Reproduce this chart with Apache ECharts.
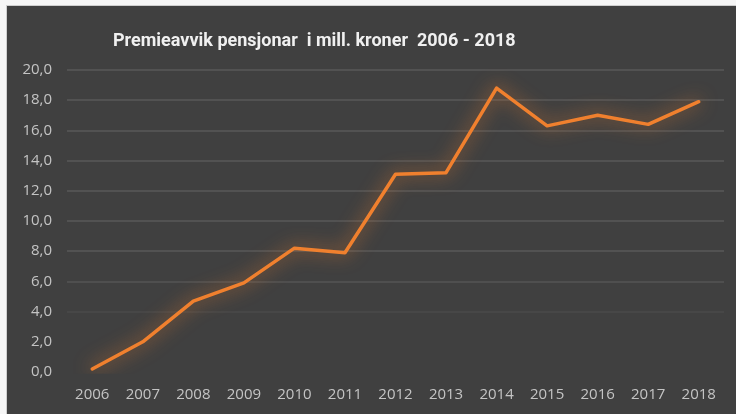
<!DOCTYPE html>
<html>
<head>
<meta charset="utf-8">
<script src="https://cdn.jsdelivr.net/npm/echarts@6/dist/echarts.min.js"></script>
<style>
    html, body { margin: 0; padding: 0; background: #f6f6f6; }
    #chart {
        position: absolute;
        left: 6px;
        top: 5px;
        width: 729px;
        height: 408px;
        border-left: 1px solid #cfcfcf;
        border-top: 1px solid #cfcfcf;
        background: #404040;
    }
</style>
</head>
<body>
<div id="chart"></div>
<script>
var years = ['2006', '2007', '2008', '2009', '2010', '2011', '2012', '2013', '2014', '2015', '2016', '2017', '2018'];
var premieavvik = [0.2, 2.0, 4.7, 5.9, 8.2, 7.9, 13.1, 13.2, 18.8, 16.3, 17.0, 16.4, 17.9];
var yTicks = { min: 0, max: 20, interval: 2 };

var mychart = echarts.init(document.getElementById('chart'));
var option = {
    backgroundColor: '#404040',
    animation: false,
    title: {
        text: 'Premieavvik pensjonar  i mill. kroner  2006 - 2018',
        left: 101,
        top: 21,
        textStyle: {
            color: '#f0f0f0',
            fontFamily: 'Roboto, sans-serif',
            fontWeight: 'bold',
            fontSize: 18
        }
    },
    grid: {
        left: 60,
        right: 12,
        top: 64,
        bottom: 42
    },
    xAxis: {
        type: 'category',
        data: years,
        boundaryGap: true,
        axisLine: { show: false },
        axisTick: { show: false },
        axisLabel: {
            color: '#c4c4c4',
            fontFamily: '"Open Sans", sans-serif',
            fontSize: 15,
            margin: 15
        }
    },
    yAxis: {
        type: 'value',
        min: yTicks.min,
        max: yTicks.max,
        interval: yTicks.interval,
        axisLine: { show: false },
        axisTick: { show: false },
        axisLabel: {
            color: '#c4c4c4',
            fontFamily: '"Open Sans", sans-serif',
            fontSize: 15,
            margin: 15,
            formatter: function (v) {
                return v.toFixed(1).replace('.', ',');
            }
        },
        splitLine: {
            show: true,
            lineStyle: {
                // the lowest lines are almost invisible in the original
                color: ['rgba(0,0,0,0)', 'rgba(0,0,0,0)', '#4a4a4a', '#545454', '#585858', '#585858',
                        '#595959', '#595959', '#595959', '#595959', '#595959'],
                width: 1.5
            }
        }
    },
    series: [
        {
            name: 'Premieavvik',
            type: 'line',
            data: premieavvik,
            symbol: 'none',
            smooth: false,
            lineStyle: {
                color: '#f0802e',
                width: 3.5,
                cap: 'round',
                join: 'round',
                shadowColor: 'rgba(240, 128, 46, 0.85)',
                shadowBlur: 18
            }
        }
    ]
};
mychart.setOption(option);
window.addEventListener('resize', () => {
    mychart.resize();
});
</script>
</body>
</html>
